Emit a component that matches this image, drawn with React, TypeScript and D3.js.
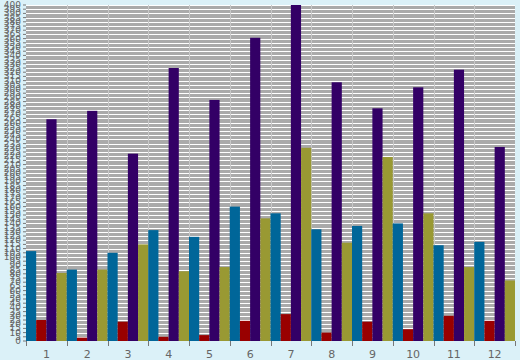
import React from "react";
import * as d3 from "d3";

const categories = ["1", "2", "3", "4", "5", "6", "7", "8", "9", "10", "11", "12"];
const seriesNames = ["A", "B", "C", "D"];
const seriesColors = ["#006699", "#990000", "#330066", "#999933"];
const seriesA = [107, 85, 105, 132, 124, 160, 152, 133, 137, 140, 114, 118];
const seriesB = [25, 4, 23, 5, 7, 24, 32, 10, 23, 14, 30, 24];
const seriesC = [264, 274, 223, 325, 287, 361, 400, 308, 277, 302, 323, 231];
const seriesD = [81, 85, 115, 83, 88, 146, 230, 117, 219, 152, 88, 72];
const yTicks = d3.range(0, 401, 5);

const W = 520, H = 360;
const M = { left: 26, right: 5, top: 5, bottom: 19 };

export default function App() {
  const series = [seriesA, seriesB, seriesC, seriesD];
  const x0 = d3.scaleBand().domain(categories).range([M.left, W - M.right]).padding(0);
  const x1 = d3.scaleBand().domain(seriesNames).range([0, x0.bandwidth()]).padding(0);
  const y = d3.scaleLinear().domain([0, 400]).range([H - M.bottom, M.top]);
  const plotW = W - M.left - M.right;
  const plotH = H - M.top - M.bottom;
  const bounds = categories.map((c) => x0(c)!).concat([W - M.right]);
  return (
    <svg width={W} height={H} style={{ position: "absolute", left: 0, top: 0, background: "#dbf1f8" }}>
      <rect x={M.left} y={M.top} width={plotW} height={plotH} fill="#aaaaaa" />
      {yTicks.slice(1).map((t) => (
        <line key={"g" + t} x1={M.left} x2={W - M.right} y1={Math.round(y(t)) + 0.5} y2={Math.round(y(t)) + 0.5} stroke="#ffffff" strokeWidth={1} />
      ))}
      {bounds.slice(1, -1).map((b, i) => (
        <line key={"v" + i} x1={Math.round(b) + 0.5} x2={Math.round(b) + 0.5} y1={M.top} y2={H - M.bottom} stroke="#c8c8c8" strokeWidth={1} />
      ))}
      {categories.map((c, ci) => (
        <g key={c}>
          {series.map((s, si) => (
            <rect
              key={si}
              x={x0(c)! + x1(seriesNames[si])!}
              y={y(s[ci])}
              width={x1.bandwidth()}
              height={y(0) - y(s[ci])}
              fill={seriesColors[si]}
            />
          ))}
        </g>
      ))}
      {yTicks.map((t) => (
        <g key={"yt" + t}>
          <line x1={M.left - 3} x2={M.left} y1={y(t)} y2={y(t)} stroke="#777777" />
          <text x={M.left - 5} y={y(t) + 3} textAnchor="end" fontSize={9} fontFamily="DejaVu Sans, sans-serif" fill="#666666">{t}</text>
        </g>
      ))}
      {bounds.map((b, i) => (
        <line key={"xt" + i} x1={Math.round(b) + 0.5} x2={Math.round(b) + 0.5} y1={H - M.bottom} y2={H - M.bottom + 5} stroke="#777777" />
      ))}
      {categories.map((c) => (
        <text key={"xl" + c} x={x0(c)! + x0.bandwidth() / 2} y={358} textAnchor="middle" fontSize={11} fontFamily="DejaVu Sans, sans-serif" fill="#666666">{c}</text>
      ))}
    </svg>
  );
}
